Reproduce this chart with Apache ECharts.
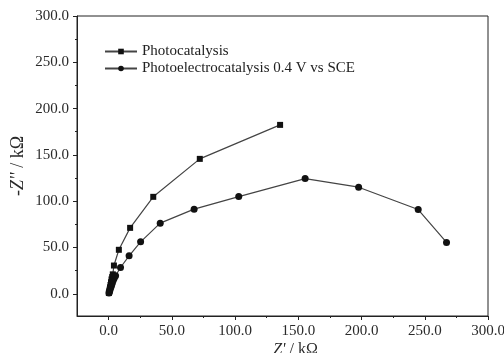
<!DOCTYPE html>
<html><head><meta charset="utf-8">
<script src="https://cdn.jsdelivr.net/npm/echarts@6/dist/echarts.min.js"></script>
<style>html,body{margin:0;padding:0;background:#fff}#c{width:504px;height:353px}</style>
</head><body><div id="c"></div>
<script>
const seriesNames = ['Photocatalysis', 'Photoelectrocatalysis 0.4 V vs SCE'];
const photoX = [0.2, 0.5, 0.8, 1.1, 1.5, 1.9, 2.3, 2.8, 3.3, 4.2, 8.1, 17.0, 35.3, 72.1, 135.6];
const photoY = [0.8, 2.5, 4.5, 7.0, 9.5, 12.5, 15.5, 18.0, 21.0, 30.5, 47.5, 71.2, 104.7, 145.7, 182.4];
const pecX = [0.3, 0.7, 1.2, 1.8, 2.4, 3.0, 3.7, 4.5, 5.5, 9.4, 16.2, 25.3, 40.8, 67.6, 102.9, 155.4, 197.7, 244.8, 267.2];
const pecY = [0.8, 2.5, 4.5, 7.0, 9.5, 12.0, 14.5, 17.0, 19.4, 28.4, 41.0, 56.1, 76.3, 91.4, 105.0, 124.4, 115.1, 91.0, 55.4];
const majorTicks = [0, 50, 100, 150, 200, 250, 300];
const minorTicks = [25, 75, 125, 175, 225, 275];

const zip = (xs, ys) => xs.map((x, i) => [x, ys[i]]);
const font = 'Liberation Serif';
const txt = '#2a2a2a';
const lineCol = '#222';

const chart = echarts.init(document.getElementById('c'), null, {renderer: 'canvas'});
const fmt = v => v.toFixed(1);
function mainAxis(extra) {
  return Object.assign({
    type: 'value',
    nameMoveOverlap: false,
    axisLine: {show: true, onZero: false, lineStyle: {color: lineCol, width: 1}},
    axisTick: {show: true, inside: false, length: 4, customValues: majorTicks, lineStyle: {color: lineCol}},
    axisLabel: {show: true, customValues: majorTicks, formatter: fmt, color: txt, fontFamily: font, fontSize: 15},
    splitLine: {show: false}
  }, extra);
}
function minorAxis(extra) {
  return Object.assign({
    type: 'value',
    axisLine: {show: false, onZero: false},
    axisTick: {show: true, inside: false, length: 2, customValues: minorTicks, lineStyle: {color: lineCol}},
    axisLabel: {show: false},
    splitLine: {show: false}
  }, extra);
}
const titleStyle = (sz, pad) => ({fontFamily: font, fontSize: sz, color: txt, padding: pad,
  rich: {i: {fontFamily: font, fontStyle: 'italic', fontSize: sz, color: txt}}});
chart.setOption({
  animation: false,
  backgroundColor: '#fff',
  grid: {left: 77, right: 16, top: 16, bottom: 37, show: true, borderColor: lineCol, borderWidth: 1,
    containLabel: false, outerBoundsMode: 'none'},
  legend: {
    left: 99, top: 39, orient: 'vertical', itemGap: 2, itemWidth: 32, itemHeight: 7,
    textStyle: {fontFamily: font, fontSize: 15, color: '#222'},
    data: seriesNames
  },
  xAxis: [
    mainAxis({min: -25, max: 300, position: 'bottom',
      name: "{i|Z'} / kΩ", nameLocation: 'middle', nameGap: 26,
      nameTextStyle: titleStyle(16, [0, 0, 0, 26])}),
    minorAxis({min: -25, max: 300, position: 'bottom'})
  ],
  yAxis: [
    mainAxis({min: -24, max: 300, position: 'left',
      name: "{i|-Z''} / kΩ", nameLocation: 'middle', nameGap: 50, nameRotate: 90,
      nameTextStyle: titleStyle(18, 0)}),
    minorAxis({min: -24, max: 300, position: 'left'})
  ],
  series: [
    {name: seriesNames[0], type: 'line', xAxisIndex: 0, yAxisIndex: 0, data: zip(photoX, photoY),
      symbol: 'rect', symbolSize: 6, itemStyle: {color: '#111'}, lineStyle: {color: '#444', width: 1.2}},
    {name: seriesNames[1], type: 'line', xAxisIndex: 0, yAxisIndex: 0, data: zip(pecX, pecY),
      symbol: 'circle', symbolSize: 7, itemStyle: {color: '#111'}, lineStyle: {color: '#444', width: 1.2}}
  ]
});
</script></body></html>
